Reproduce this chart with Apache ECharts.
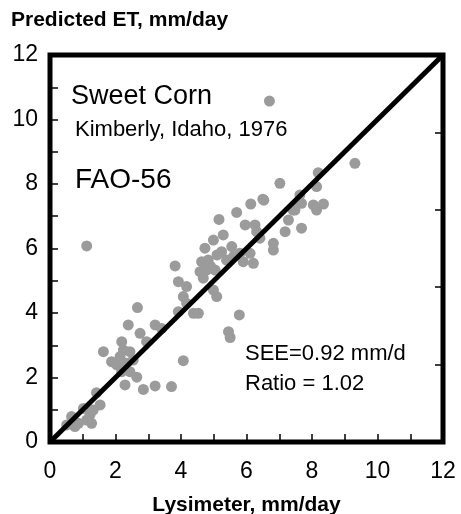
<!DOCTYPE html>
<html>
<head>
<meta charset="utf-8">
<script src="https://cdn.jsdelivr.net/npm/echarts@6/dist/echarts.min.js"></script>
<style>
  html, body { margin: 0; padding: 0; background: #fff; }
  #chart { width: 461px; height: 514px; }
</style>
</head>
<body>
<div id="chart"></div>
<script>
// measured (lysimeter) vs predicted ET, mm/day
const lysimeter = [
    6.70, 9.31, 8.19, 7.02, 8.14, 7.63, 6.13, 6.53, 7.68, 8.04,
    8.35, 8.14, 7.48, 5.70, 5.16, 7.28, 5.96, 6.26, 6.31, 7.18,
    7.68, 5.29, 4.99, 4.73, 5.55, 5.24, 6.82, 6.82, 6.41, 1.12,
    3.82, 4.63, 4.83, 5.90, 6.21, 5.39, 4.58, 4.78, 5.04, 4.68,
    3.92, 4.17, 4.99, 5.09, 4.07, 4.17, 3.92, 4.38, 4.53, 5.78,
    2.67, 2.39, 3.21, 3.41, 2.75, 2.95, 5.45, 5.50, 2.19, 1.63,
    2.24, 2.44, 2.14, 1.88, 2.04, 2.34, 2.54, 4.07, 2.19, 2.44,
    2.65, 2.29, 2.85, 3.21, 3.71, 1.42, 1.53, 1.02, 0.66, 0.87,
    1.22, 1.32, 0.51, 1.12, 1.27, 0.76, 6.11, 5.80, 5.60, 7.57,
    7.42, 5.10, 4.90, 6.50
];
const predicted = [
    10.57, 8.64, 8.35, 8.02, 7.92, 7.66, 7.38, 7.50, 7.40, 7.35,
    7.38, 7.19, 7.19, 7.12, 6.90, 6.88, 6.73, 6.73, 6.52, 6.52,
    6.63, 6.42, 6.26, 6.01, 6.06, 5.90, 6.16, 5.95, 6.32, 6.08,
    5.46, 5.59, 5.64, 5.59, 5.54, 5.64, 5.28, 5.33, 5.33, 5.08,
    4.97, 4.82, 4.71, 4.51, 4.51, 4.30, 4.04, 3.99, 3.99, 3.94,
    4.17, 3.63, 3.63, 3.52, 3.37, 3.11, 3.42, 3.24, 3.11, 2.80,
    2.85, 2.80, 2.65, 2.49, 2.39, 2.44, 2.54, 2.52, 2.18, 2.18,
    2.01, 1.77, 1.63, 1.74, 1.72, 1.53, 1.15, 1.04, 0.79, 0.58,
    0.84, 0.99, 0.53, 0.68, 0.58, 0.48, 5.85, 5.85, 5.75, 7.40,
    7.19, 5.80, 5.45, 7.53
];
const oneToOne = [[0, 0], [12, 12]];
const axisTicks = [0, 2, 4, 6, 8, 10, 12];

const points = lysimeter.map((x, i) => [x, predicted[i]]);

const chart = echarts.init(document.getElementById('chart'));
const font = 'Liberation Sans, Arial, sans-serif';

chart.setOption({
    animation: false,
    title: {
        text: 'Predicted ET, mm/day',
        left: 6,
        top: 5,
        textStyle: {
            fontFamily: font,
            fontWeight: 'bold',
            fontSize: 21,
            color: '#000'
        }
    },
    grid: {
        left: 50,
        right: 18,
        top: 55,
        bottom: 72,
        outerBoundsMode: 'none',
        containLabel: false,
        show: true,
        borderColor: '#000',
        borderWidth: 5,
        backgroundColor: 'transparent'
    },
    xAxis: {
        type: 'value',
        min: 0,
        max: 12,
        interval: 2,
        name: 'Lysimeter, mm/day',
        nameLocation: 'middle',
        nameGap: 53,
        nameTextStyle: {
            fontFamily: font,
            fontWeight: 'bold',
            fontSize: 21,
            color: '#000'
        },
        axisLine: { show: false },
        axisTick: {
            show: true,
            inside: true,
            length: 8,
            lineStyle: { color: '#000', width: 1.5 }
        },
        minorTick: {
            show: true,
            splitNumber: 2,
            length: 8,
            lineStyle: { color: '#000', width: 1.5 }
        },
        splitLine: { show: false },
        axisLabel: {
            margin: 18,
            fontFamily: font,
            fontSize: 23,
            color: '#000',
            formatter: v => axisTicks.includes(v) ? String(v) : ''
        }
    },
    yAxis: [{
        type: 'value',
        min: 0,
        max: 12,
        interval: 2,
        axisLine: { show: false },
        axisTick: {
            show: true,
            inside: true,
            length: 8,
            lineStyle: { color: '#000', width: 1.5 }
        },
        minorTick: {
            show: true,
            splitNumber: 2,
            length: 8,
            lineStyle: { color: '#000', width: 1.5 }
        },
        splitLine: { show: false },
        axisLabel: {
            margin: 12,
            fontFamily: font,
            fontSize: 23,
            color: '#000'
        }
    }, {
        type: 'value',
        position: 'right',
        min: 0,
        max: 12,
        interval: 2.4,
        axisLine: { show: false },
        axisTick: {
            show: true,
            inside: true,
            length: 8,
            lineStyle: { color: '#000', width: 1.5 }
        },
        splitLine: { show: false },
        axisLabel: { show: false }
    }],
    graphic: [
        { type: 'text', left: 71, top: 83, style: { text: 'Sweet Corn', font: '27px ' + font, fill: '#000' } },
        { type: 'text', left: 75, top: 119, style: { text: 'Kimberly, Idaho, 1976', font: '22px ' + font, fill: '#000' } },
        { type: 'text', left: 75, top: 166, style: { text: 'FAO-56', font: '28px ' + font, fill: '#000' } },
        { type: 'text', left: 245, top: 343, style: { text: 'SEE=0.92 mm/d', font: '22px ' + font, fill: '#000' } },
        { type: 'text', left: 245, top: 373, style: { text: 'Ratio = 1.02', font: '22px ' + font, fill: '#000' } }
    ],
    series: [{
        type: 'scatter',
        data: points,
        symbolSize: 11,
        itemStyle: { color: '#9b9b9b', opacity: 1 },
        z: 2
    }, {
        type: 'line',
        data: oneToOne,
        symbol: 'none',
        lineStyle: { color: '#000', width: 5 },
        z: 3
    }]
});
</script>
</body>
</html>
